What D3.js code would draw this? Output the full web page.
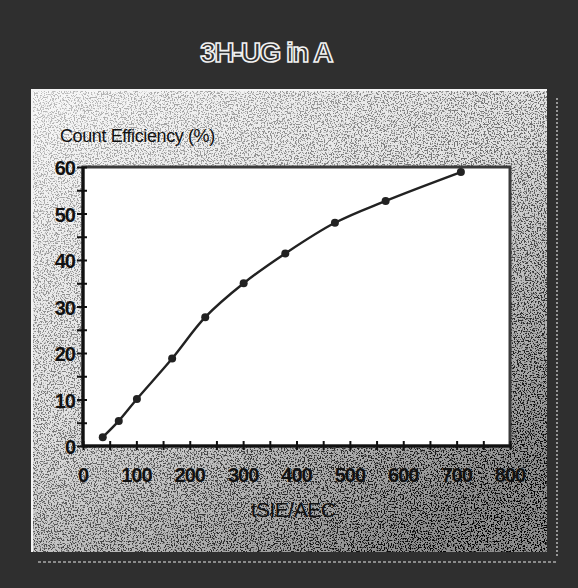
<!DOCTYPE html>
<html>
<head>
<meta charset="utf-8">
<script src="https://cdn.jsdelivr.net/npm/d3@7"></script>
<style>
  body { margin: 0; background: #2f2f2f; }
  text { font-family: "Liberation Sans", Arial, sans-serif; }
</style>
</head>
<body>
<div id="chart"></div>
<script>
// data
var tsie = [37, 67, 101, 167, 229, 301, 379, 472, 567, 708];
var efficiency = [1.9, 5.4, 10.1, 18.8, 27.7, 35.0, 41.4, 48.0, 52.7, 58.9];
var xTicks = [0, 100, 200, 300, 400, 500, 600, 700, 800];
var yTicks = [0, 10, 20, 30, 40, 50, 60];

var svgWidth = 578;
var svgHeight = 588;
var margin = {top: 167, right: 68, bottom: 142, left: 83};
var width = svgWidth - margin.left - margin.right;
var height = svgHeight - margin.top - margin.bottom;

var svg = d3.select("#chart")
  .append("svg")
  .attr("width", svgWidth)
  .attr("height", svgHeight);

var defs = svg.append("defs");
var grad = defs.append("linearGradient")
  .attr("id", "panelGrad")
  .attr("x1", "0%").attr("y1", "0%")
  .attr("x2", "70%").attr("y2", "100%");
grad.append("stop").attr("offset", "0%").attr("stop-color", "#f8f8f8");
grad.append("stop").attr("offset", "50%").attr("stop-color", "#e2e2e2");
grad.append("stop").attr("offset", "100%").attr("stop-color", "#8e8e8e");

// the speckles get denser toward the lower right
var maskGrad = defs.append("linearGradient")
  .attr("id", "maskGrad")
  .attr("x1", "0%").attr("y1", "0%")
  .attr("x2", "80%").attr("y2", "100%");
maskGrad.append("stop").attr("offset", "0%").attr("stop-color", "#3a3a3a");
maskGrad.append("stop").attr("offset", "55%").attr("stop-color", "#888");
maskGrad.append("stop").attr("offset", "100%").attr("stop-color", "#fff");
defs.append("mask").attr("id", "noiseMask")
  .append("rect")
  .attr("x", 32).attr("y", 90).attr("width", 515).attr("height", 462)
  .attr("fill", "url(#maskGrad)");

var noise = defs.append("filter").attr("id", "speckle")
  .attr("x", 0).attr("y", 0).attr("width", "100%").attr("height", "100%");
noise.append("feTurbulence")
  .attr("type", "fractalNoise").attr("baseFrequency", 0.7)
  .attr("numOctaves", 2).attr("seed", 3).attr("result", "n");
noise.append("feColorMatrix")
  .attr("in", "n").attr("type", "matrix")
  .attr("values", "0 0 0 0 0  0 0 0 0 0  0 0 0 0 0  0 0 0 -9 4.4");

// dark backdrop
svg.append("rect")
  .attr("width", svgWidth).attr("height", svgHeight)
  .attr("fill", "#2f2f2f");

// title, hollow letters
svg.append("text")
  .attr("x", 266).attr("y", 62)
  .attr("text-anchor", "middle")
  .attr("font-size", 28)
  .attr("font-weight", "bold")
  .attr("fill", "#2f2f2f")
  .attr("stroke", "#f2f2f2")
  .attr("stroke-width", 1.6)
  .attr("letter-spacing", -1.5)
  .text("3H-UG in A");

// grey panel
svg.append("rect")
  .attr("x", 32).attr("y", 90)
  .attr("width", 515).attr("height", 462)
  .attr("fill", "url(#panelGrad)");
svg.append("rect")
  .attr("x", 32).attr("y", 90)
  .attr("width", 515).attr("height", 462)
  .attr("fill", "#111")
  .attr("filter", "url(#speckle)")
  .attr("mask", "url(#noiseMask)");
svg.append("path")
  .attr("d", "M32,552 L32,90 L547,90")
  .attr("fill", "none").attr("stroke", "#f4f4f4").attr("stroke-width", 2);
svg.append("line")
  .attr("x1", 557).attr("x2", 557).attr("y1", 98).attr("y2", 558)
  .attr("stroke", "#bbb").attr("stroke-width", 1.5).attr("stroke-dasharray", "2,2");
svg.append("line")
  .attr("x1", 38).attr("x2", 557).attr("y1", 562).attr("y2", 562)
  .attr("stroke", "#aaa").attr("stroke-width", 1.5).attr("stroke-dasharray", "3,2");

var chart = svg.append("g")
  .attr("transform", "translate(" + margin.left + "," + margin.top + ")");

var xScale = d3.scaleLinear().domain([0, 800]).range([0, width]);
var yScale = d3.scaleLinear().domain([0, 60]).range([height, 0]);

// white plot area with frame
chart.append("rect")
  .attr("width", width).attr("height", height)
  .attr("fill", "#fff")
  .attr("stroke", "#3a3a3a").attr("stroke-width", 3);

// axes: ticks crossing the axis line
var bottomAxis = d3.axisBottom(xScale)
  .tickValues(d3.range(0, 801, 50))
  .tickSizeInner(5).tickSizeOuter(0).tickFormat("");
var leftAxis = d3.axisLeft(yScale)
  .tickValues(d3.range(0, 61, 5))
  .tickSizeInner(6).tickSizeOuter(0).tickFormat("");

var gx = chart.append("g")
  .attr("transform", "translate(0," + height + ")")
  .call(bottomAxis);
gx.selectAll("line").attr("y1", -5).attr("y2", 4);
var gy = chart.append("g").call(leftAxis);
gy.selectAll("line").attr("x1", 4).attr("x2", -6);
chart.selectAll(".domain").remove();
chart.selectAll(".tick line").attr("stroke", "#111").attr("stroke-width", 2);

chart.append("line")
  .attr("x1", 0).attr("x2", width).attr("y1", height).attr("y2", height)
  .attr("stroke", "#111").attr("stroke-width", 3);
chart.append("line")
  .attr("x1", 0).attr("x2", 0).attr("y1", 0).attr("y2", height)
  .attr("stroke", "#111").attr("stroke-width", 3);

// tick labels
chart.selectAll(".xlab")
  .data(xTicks)
  .enter()
  .append("text")
  .attr("class", "xlab")
  .attr("x", function(d) { return xScale(d); })
  .attr("y", height + 36)
  .attr("text-anchor", "middle")
  .attr("font-size", 20)
  .attr("font-weight", "bold")
  .attr("letter-spacing", -1)
  .attr("fill", "#111")
  .text(function(d) { return d; });

chart.selectAll(".ylab")
  .data(yTicks)
  .enter()
  .append("text")
  .attr("class", "ylab")
  .attr("x", -8)
  .attr("y", function(d) { return yScale(d) + 8; })
  .attr("text-anchor", "end")
  .attr("font-size", 20)
  .attr("font-weight", "bold")
  .attr("letter-spacing", -1)
  .attr("fill", "#111")
  .text(function(d) { return d; });

// axis titles
svg.append("text")
  .attr("x", 60).attr("y", 142)
  .attr("font-size", 18)
  .attr("fill", "#111")
  .attr("letter-spacing", -0.4)
  .text("Count Efficiency (%)");

svg.append("text")
  .attr("x", 293).attr("y", 517)
  .attr("text-anchor", "middle")
  .attr("font-size", 21)
  .attr("fill", "#111")
  .attr("letter-spacing", -0.5)
  .text("tSIE/AEC");

// curve and points
var line = d3.line()
  .x(function(d, i) { return xScale(tsie[i]); })
  .y(function(d) { return yScale(d); })
  .curve(d3.curveCatmullRom.alpha(0.5));

chart.append("path")
  .datum(efficiency)
  .attr("d", line)
  .attr("fill", "none")
  .attr("stroke", "#222")
  .attr("stroke-width", 2.4);

chart.selectAll("circle")
  .data(efficiency)
  .enter()
  .append("circle")
  .attr("cx", function(d, i) { return xScale(tsie[i]); })
  .attr("cy", function(d) { return yScale(d); })
  .attr("r", 4)
  .attr("fill", "#222");
</script>
</body>
</html>
